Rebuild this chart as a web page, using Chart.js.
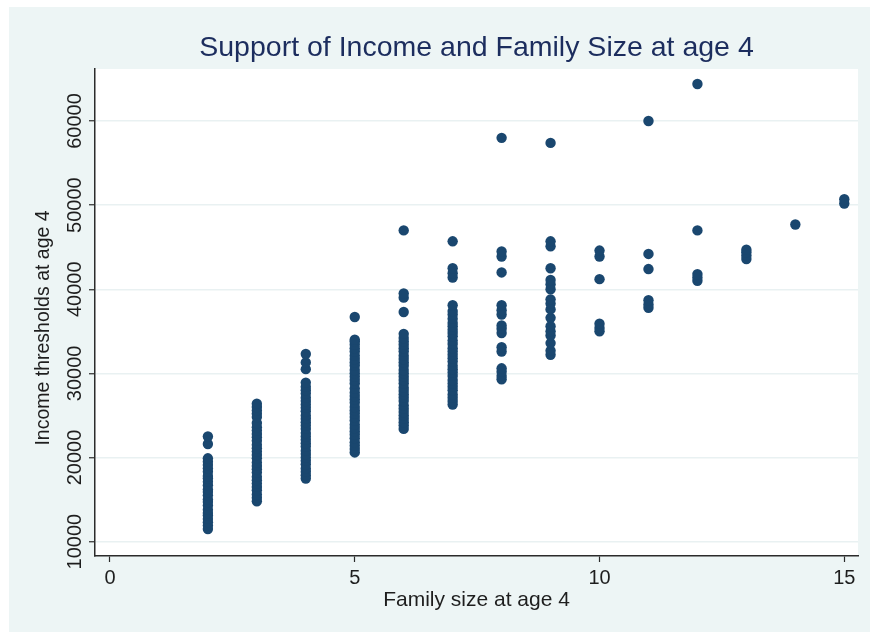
<!DOCTYPE html>
<html>
<head>
<meta charset="utf-8">
<script src="https://cdn.jsdelivr.net/npm/chart.js@4/dist/chart.umd.min.js"></script>
<style>
  html, body { margin: 0; padding: 0; background: #ffffff; }
  #chart { display: block; }
</style>
</head>
<body>
<canvas id="chart" width="870" height="634"></canvas>
<script>
// Support of income thresholds by family size (Stata s2color look)
const TITLE = 'Support of Income and Family Size at age 4';
const X_TITLE = 'Family size at age 4';
const Y_TITLE = 'Income thresholds at age 4';

const X_TICKS = [0, 5, 10, 15];
const Y_TICKS = [10000, 20000, 30000, 40000, 50000, 60000];

// income values
const inc2 = [11500, 11900, 12300, 12700, 13100, 13400, 13800, 14300, 14700, 15000, 15500, 15900,
  16200, 16700, 17100, 17500, 17800, 18300, 18700, 19100, 19500, 19900, 21600, 22500];
const inc3 = [14800, 15200, 15600, 16100, 16500, 16900, 17300, 17700, 18200, 18600, 19000, 19400,
  19900, 20300, 20700, 21100, 21500, 22000, 22400, 22800, 23200, 23600, 24100, 24800, 25200,
  25600, 26000, 26400];
const inc4 = [17500, 17900, 18300, 18700, 19200, 19600, 20000, 20400, 20800, 21300, 21700, 22100,
  22500, 22900, 23400, 23800, 24200, 24600, 25000, 25500, 25900, 26300, 26700, 27100, 27600,
  28000, 28400, 28900, 30500, 31300, 32300];
const inc5 = [20600, 21000, 21400, 21800, 22300, 22700, 23100, 23500, 23900, 24400, 24800, 25200,
  25600, 26000, 26500, 26900, 27300, 27700, 28200, 28800, 29200, 29600, 30000, 30400, 30900,
  31300, 31700, 32100, 32600, 33000, 33400, 33800, 34000, 36700];
const inc6 = [23400, 23800, 24200, 24600, 25000, 25400, 25800, 26200, 26700, 27100, 27500, 27900,
  28300, 28800, 29200, 29600, 30000, 30400, 30900, 31300, 31700, 32100, 32600, 33000, 33400,
  33800, 34200, 34700, 37300, 39000, 39500, 47000];
const inc7 = [26300, 26700, 27100, 27500, 28000, 28400, 28800, 29200, 29700, 30100, 30500, 30900,
  31400, 31800, 32200, 32600, 33000, 33500, 33900, 34400, 34800, 35200, 35600, 36000, 36500,
  37000, 37400, 38100, 41400, 41900, 42500, 45700];
const inc8 = [29300, 29700, 30200, 30600, 32600, 33100, 34800, 35300, 35700, 37000, 37500, 38100,
  42000, 43900, 44500, 58000];
const inc9 = [32200, 32700, 33600, 34500, 35000, 35600, 36600, 37600, 38300, 38800, 40000, 40600,
  41100, 42500, 45100, 45700, 57400];
const inc10 = [35000, 35400, 35900, 41200, 43900, 44600];
const inc11 = [37800, 38200, 38700, 42400, 44200, 60000];
const inc12 = [41000, 41400, 41800, 47000, 64400];
const inc13 = [43600, 44000, 44400, 44700];
const inc14 = [47700];
const inc15 = [50200, 50700];

const familySizes = [2, 3, 4, 5, 6, 7, 8, 9, 10, 11, 12, 13, 14, 15];
const incomeColumns = [inc2, inc3, inc4, inc5, inc6, inc7, inc8, inc9, inc10, inc11, inc12, inc13, inc14, inc15];

const NAVY = '#1a476f';
const TITLE_COL = '#1c2d5e';
const TEXT_COL = '#1e1e1e';
const AXIS_COL = '#2b2b2b';
const BG = '#edf5f5';
const GRID = '#e9f1f2';
const FONT = '"Liberation Sans", Arial, sans-serif';

const points = [];
familySizes.forEach((fs, i) => {
    incomeColumns[i].forEach(v => points.push({ x: fs, y: v }));
});

// outer frame + white plot region, rotated y labels and y title like Stata
const stataFrame = {
    id: 'stataFrame',
    beforeDraw(chart) {
        const { ctx, chartArea: a } = chart;
        ctx.save();
        ctx.fillStyle = BG;
        ctx.fillRect(9, 7, 861, 625);
        ctx.fillStyle = '#ffffff';
        ctx.fillRect(a.left, a.top, a.right - a.left, a.bottom - a.top);
        ctx.restore();
    },
    afterDraw(chart) {
        const { ctx } = chart;
        const ys = chart.scales.y;
        ctx.save();
        ctx.fillStyle = TEXT_COL;
        ctx.textAlign = 'center';
        ctx.textBaseline = 'middle';
        ctx.font = '20px ' + FONT;
        ys.ticks.forEach(t => {
            ctx.save();
            ctx.translate(75, ys.getPixelForValue(t.value));
            ctx.rotate(-Math.PI / 2);
            ctx.fillText(String(t.value), 0, 0);
            ctx.restore();
        });
        ctx.font = '19.5px ' + FONT;
        ctx.translate(44, 328);
        ctx.rotate(-Math.PI / 2);
        ctx.fillText(Y_TITLE, 0, 0);
        ctx.restore();
    }
};

new Chart(document.getElementById('chart'), {
    type: 'scatter',
    data: {
        datasets: [{
            data: points,
            backgroundColor: NAVY,
            borderColor: NAVY,
            borderWidth: 0,
            pointRadius: 5.2,
            pointHoverRadius: 5.2,
        }]
    },
    options: {
        responsive: false,
        animation: false,
        devicePixelRatio: 1,
        layout: { padding: { left: 0, right: 12, top: 0, bottom: 0 } },
        plugins: {
            legend: { display: false },
            tooltip: { enabled: false },
            title: {
                display: true,
                fullSize: false,
                text: TITLE,
                color: TITLE_COL,
                font: { family: FONT, size: 28.5, weight: 'normal', lineHeight: 1.2 },
                padding: { top: 31, bottom: 3.8 }
            }
        },
        scales: {
            x: {
                type: 'linear',
                min: -0.306,
                max: 15.28,
                afterBuildTicks: s => { s.ticks = X_TICKS.map(v => ({ value: v })); },
                afterFit: s => { s.height = 78; },
                border: { color: AXIS_COL, width: 1.5 },
                grid: { drawOnChartArea: false, drawTicks: true, tickLength: 6, tickColor: AXIS_COL, tickWidth: 1.2 },
                ticks: { color: TEXT_COL, font: { family: FONT, size: 20 }, padding: 4, maxRotation: 0 },
                title: {
                    display: true,
                    text: X_TITLE,
                    color: TEXT_COL,
                    font: { family: FONT, size: 21, lineHeight: 1.2 },
                    padding: { top: 0, bottom: 20.9 }
                }
            },
            y: {
                type: 'linear',
                min: 8287,
                max: 66186,
                afterBuildTicks: s => { s.ticks = Y_TICKS.map(v => ({ value: v })); },
                afterFit: s => { s.width = 95; },
                border: { color: AXIS_COL, width: 1.5 },
                grid: { color: GRID, lineWidth: 1.5, drawTicks: true, tickLength: 6, tickColor: AXIS_COL, tickWidth: 1.2 },
                ticks: { display: false }
            }
        }
    },
    plugins: [stataFrame]
});
</script>
</body>
</html>
